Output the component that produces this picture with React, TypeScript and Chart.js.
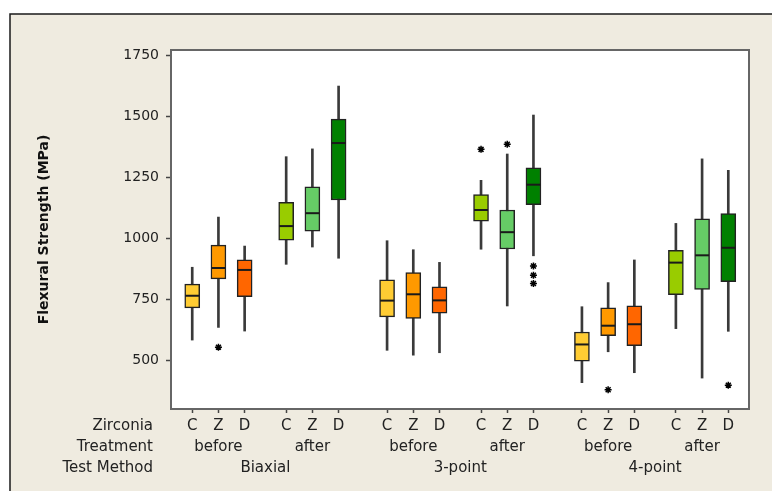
import React, { useEffect, useRef } from "react";
import { Chart, registerables } from "chart.js";

Chart.register(...registerables);

// ---- categories ----
const zirconia = ["C", "Z", "D"];
const treatments = ["before", "after"];
const testMethods = ["Biaxial", "3-point", "4-point"];
const rowHeaders = ["Zirconia", "Treatment", "Test Method"];

// box order: method (Biaxial, 3-point, 4-point) x treatment (before, after) x zirconia (C, Z, D)
const boxColors = ["#FFCC33", "#FF9900", "#FF6600", "#99CC00", "#66CC66", "#008000"];

// ---- series values (MPa) ----
const whiskerLow = [582, 634, 619, 893, 964, 918, 540, 520, 530, 955, 722, 928, 407, 534, 448, 629, 426, 618];
const q1 = [714, 833, 760, 992, 1029, 1157, 677, 671, 692, 1070, 956, 1138, 495, 600, 559, 768, 790, 822];
const median = [764, 878, 870, 1050, 1103, 1391, 744, 770, 745, 1116, 1025, 1220, 564, 641, 647, 900, 930, 961];
const q3 = [812, 972, 911, 1148, 1211, 1489, 829, 859, 801, 1179, 1116, 1289, 615, 714, 723, 950, 1080, 1101];
const whiskerHigh = [881, 1087, 968, 1335, 1367, 1625, 990, 953, 901, 1238, 1346, 1506, 719, 818, 911, 1061, 1326, 1279];
const outlierBox = [1, 9, 10, 11, 11, 11, 13, 17];
const outlierValue = [553, 1365, 1386, 886, 848, 814, 378, 397];

const yTicks = [500, 750, 1000, 1250, 1500, 1750];

// ---- layout constants ----
const TREAT_STEP = 3.585;
const METHOD_STEP = 7.435;
const X_MIN = -0.81;
const X_MAX = 21.245;
const Y_MIN = 299;
const Y_MAX = 1773;
const FONT = "'DejaVu Sans', sans-serif";
const X_TICK_LEN = 4;
const X_TICK_PAD = 2;
const X_FONT_SIZE = 15;
const X_LINE_H = 1.42;

function boxPos(i: number) {
  const m = Math.floor(i / 6);
  const t = Math.floor((i % 6) / 3);
  const z = i % 3;
  return m * METHOD_STEP + t * TREAT_STEP + z;
}

type TickDef = { value: number; label: string[]; mark: boolean };

function buildTickDefs(): TickDef[] {
  const defs: TickDef[] = [];
  for (let i = 0; i < median.length; i++) {
    const t = Math.floor((i % 6) / 3);
    const z = i % 3;
    defs.push({ value: boxPos(i), label: [zirconia[z], z === 1 ? treatments[t] : "", ""], mark: true });
  }
  for (let m = 0; m < testMethods.length; m++) {
    defs.push({ value: m * METHOD_STEP + (2 + TREAT_STEP) / 2, label: ["", "", testMethods[m]], mark: false });
  }
  defs.sort((a, b) => a.value - b.value);
  return defs;
}

export default function App() {
  const canvasRef = useRef<HTMLCanvasElement | null>(null);

  useEffect(() => {
    const canvas = canvasRef.current;
    if (!canvas) return;
    const tickDefs = buildTickDefs();
    const n = median.length;
    const colors = Array.from({ length: n }, (_, i) => boxColors[i % 6]);

    const framePlugin = {
      id: "frame",
      beforeDraw(chart: any) {
        const { ctx, width, height, chartArea } = chart;
        ctx.save();
        ctx.fillStyle = "#ffffff";
        ctx.fillRect(0, 0, width, height);
        ctx.fillStyle = "#EFEBE0";
        ctx.fillRect(10, 14, width - 10, height - 14);
        ctx.strokeStyle = "#1a1a1a";
        ctx.lineWidth = 1.5;
        ctx.beginPath();
        ctx.moveTo(10, height);
        ctx.lineTo(10, 14);
        ctx.lineTo(width, 14);
        ctx.stroke();
        ctx.fillStyle = "#ffffff";
        ctx.fillRect(chartArea.left, chartArea.top, chartArea.right - chartArea.left, chartArea.bottom - chartArea.top);
        ctx.restore();
      },
      afterDraw(chart: any) {
        const { ctx, chartArea } = chart;
        ctx.save();
        ctx.strokeStyle = "#666666";
        ctx.lineWidth = 2;
        ctx.strokeRect(chartArea.left, chartArea.top, chartArea.right - chartArea.left, chartArea.bottom - chartArea.top);
        // row headers for the category rows
        const xs = chart.scales.x;
        const lh = X_FONT_SIZE * X_LINE_H;
        const y0 = xs.top + X_TICK_LEN + X_TICK_PAD + lh / 2;
        ctx.fillStyle = "#222222";
        ctx.font = `${X_FONT_SIZE}px ${FONT}`;
        ctx.textAlign = "right";
        ctx.textBaseline = "middle";
        rowHeaders.forEach((h, k) => ctx.fillText(h, 153, y0 + k * lh));
        ctx.restore();
      },
    };

    const chart = new Chart(canvas, {
      type: "bar",
      data: {
        datasets: [
          {
            type: "bar",
            data: median.map((_, i) => ({ x: boxPos(i), y: [whiskerLow[i], whiskerHigh[i]] })) as any,
            backgroundColor: "#3a3a3a",
            borderWidth: 0,
            barThickness: 2,
            grouped: false,
            order: 4,
          } as any,
          {
            type: "bar",
            data: median.map((_, i) => ({ x: boxPos(i), y: [q1[i], q3[i]] })) as any,
            backgroundColor: colors,
            borderColor: "#222222",
            borderWidth: 1.5,
            borderSkipped: false,
            barThickness: 15,
            grouped: false,
            order: 3,
          } as any,
          {
            type: "scatter",
            data: median.map((v, i) => ({ x: boxPos(i), y: v })),
            pointStyle: "line",
            pointRadius: 7,
            borderColor: "#1a1a1a",
            borderWidth: 2,
            order: 2,
          } as any,
          {
            type: "scatter",
            data: outlierValue.map((v, k) => ({ x: boxPos(outlierBox[k]), y: v })),
            pointStyle: "star",
            pointRadius: 3.5,
            borderColor: "#000000",
            backgroundColor: "#000000",
            borderWidth: 1.5,
            order: 1,
          } as any,
        ],
      },
      options: {
        animation: false,
        responsive: false,
        events: [],
        layout: { padding: { top: 50, right: 23, left: 0, bottom: 0 } },
        plugins: { legend: { display: false }, tooltip: { enabled: false } },
        scales: {
          x: {
            type: "linear",
            min: X_MIN,
            max: X_MAX,
            offset: false,
            border: { display: false },
            grid: {
              drawOnChartArea: false,
              drawTicks: true,
              tickLength: X_TICK_LEN,
              tickWidth: 1.5,
              tickColor: (c: any) => (tickDefs[c.index] && tickDefs[c.index].mark ? "#444444" : "rgba(0,0,0,0)"),
              offset: false,
            } as any,
            afterBuildTicks: (s: any) => {
              s.ticks = tickDefs.map((d) => ({ value: d.value }));
            },
            afterFit: (s: any) => {
              s.height = 82;
            },
            ticks: {
              autoSkip: false,
              maxRotation: 0,
              minRotation: 0,
              padding: X_TICK_PAD,
              color: "#222222",
              font: { family: FONT, size: X_FONT_SIZE, lineHeight: X_LINE_H },
              callback: (_v: any, idx: number) => tickDefs[idx].label,
            },
          },
          y: {
            type: "linear",
            min: Y_MIN,
            max: Y_MAX,
            border: { display: false },
            grid: { drawOnChartArea: false, drawTicks: true, tickLength: 5, tickWidth: 1.5, tickColor: "#444444" },
            afterBuildTicks: (s: any) => {
              s.ticks = yTicks.map((v) => ({ value: v }));
            },
            afterFit: (s: any) => {
              s.width = 171;
            },
            ticks: {
              padding: 7,
              color: "#222222",
              font: { family: FONT, size: 14 },
              callback: (v: any) => String(v),
            },
            title: {
              display: true,
              text: "Flexural Strength (MPa)",
              color: "#111111",
              font: { family: FONT, size: 14, weight: "bold" },
              padding: { top: 36, bottom: 0 },
            },
          },
        },
      } as any,
      plugins: [framePlugin],
    });

    return () => chart.destroy();
  }, []);

  return (
    <div style={{ position: "fixed", left: 0, top: 0, width: 772, height: 491 }}>
      <canvas ref={canvasRef} width={772} height={491} style={{ width: 772, height: 491, display: "block" }} />
    </div>
  );
}
